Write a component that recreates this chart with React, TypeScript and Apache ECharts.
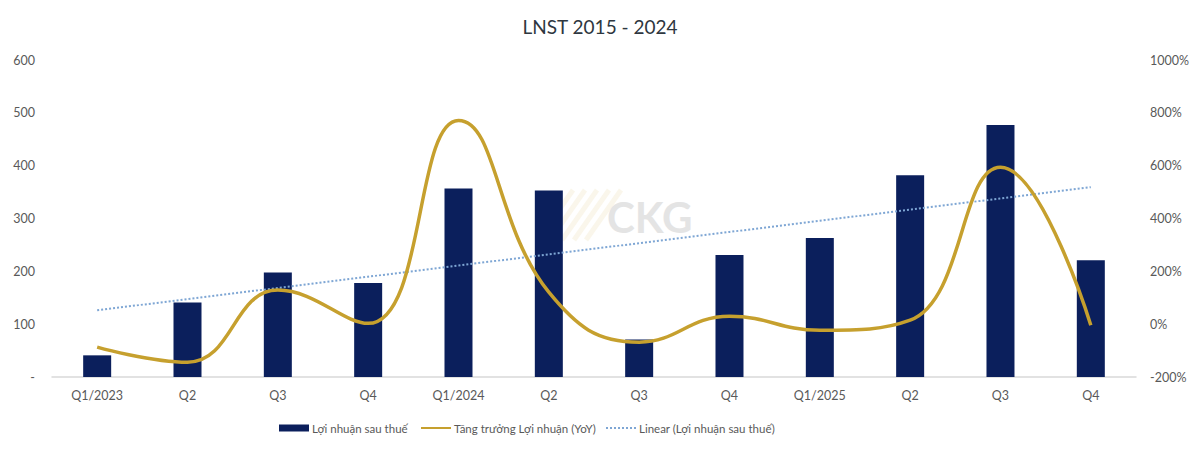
import React, { useEffect, useRef } from "react";
import * as echarts from "echarts";

// Quarterly categories
const quarters = [
  "Q1/2023", "Q2", "Q3", "Q4",
  "Q1/2024", "Q2", "Q3", "Q4",
  "Q1/2025", "Q2", "Q3", "Q4",
];

// Net profit after tax (left axis)
const profit = [41, 141, 198, 178, 357, 353, 71, 231, 263, 382, 477, 221];

// YoY profit growth, % (right axis)
const growth = [-87, -144, 129, 3, 771, 121, -68, 30, -23, 15, 594, -4];

// Left / right axis ranges
const leftAxis = { min: 0, max: 600, step: 100 };
const rightAxis = { min: -200, max: 1000, step: 200 };

// Series names shown in the legend
const SERIES_PROFIT = "Lợi nhuận sau thuế";
const SERIES_GROWTH = "Tăng trưởng Lợi nhuận (YoY)";
const SERIES_TREND = "Linear (Lợi nhuận sau thuế)";

// Least-squares linear trend of the profit series
function linearTrend(values: number[]): number[] {
  const n = values.length;
  const xs = values.map((_, i) => i);
  const mx = xs.reduce((a, b) => a + b, 0) / n;
  const my = values.reduce((a, b) => a + b, 0) / n;
  let sxy = 0;
  let sxx = 0;
  xs.forEach((x, i) => {
    sxy += (x - mx) * (values[i] - my);
    sxx += (x - mx) * (x - mx);
  });
  const slope = sxy / sxx;
  const icpt = my - slope * mx;
  return xs.map((x) => +(icpt + slope * x).toFixed(2));
}

const FONT = "Lato";
const NAVY = "#0b1f5c";
const GOLD = "#c6a02e";
const TREND = "#7ea6d4";
const LABEL = "#595959";

export default function App() {
  const ref = useRef<HTMLDivElement>(null);

  useEffect(() => {
    if (!ref.current) return;
    const chart = echarts.init(ref.current, undefined, { renderer: "svg" });

    // faint diagonal stripes of the watermark logo
    const stripes = [0, 1, 2, 3, 4].map((k) => ({
      type: "line",
      shape: { x1: 530 + k * 12, y1: 232, x2: 565 + k * 12, y2: 182 },
      style: { stroke: "rgba(214,180,90,0.12)", lineWidth: 5 },
      silent: true,
      z: -1,
    }));

    const hiddenDot = { opacity: 0 };
    const legendBase = {
      top: 409,
      itemWidth: 30,
      itemHeight: 7,
      itemGap: 4,
      textStyle: {
        fontFamily: FONT,
        fontSize: 11.5,
        color: LABEL,
        padding: [0, 0, 0, -2],
      },
    };

    chart.setOption({
      animation: false,
      backgroundColor: "#ffffff",
      textStyle: { fontFamily: FONT },
      title: {
        text: "LNST 2015 - 2024",
        left: "center",
        top: 4,
        textStyle: {
          fontFamily: FONT,
          fontSize: 19,
          fontWeight: "normal",
          color: "#2e3740",
        },
      },
      graphic: [
        ...stripes,
        {
          type: "text",
          left: 599,
          top: 188,
          silent: true,
          z: -1,
          style: {
            text: "CKG",
            fill: "#e4e4e4",
            font: `bold 42px ${FONT}`,
          },
        },
      ],
      grid: { left: 44, right: 55, top: 52, bottom: 73, containLabel: false },
      legend: [
        {
          ...legendBase,
          left: 266,
          data: [{ name: SERIES_PROFIT, icon: "rect" }],
        },
        {
          ...legendBase,
          left: 407,
          data: [{ name: SERIES_GROWTH, itemStyle: hiddenDot }],
        },
        {
          ...legendBase,
          left: 592,
          data: [{ name: SERIES_TREND, itemStyle: hiddenDot }],
        },
      ],
      xAxis: {
        type: "category",
        data: quarters,
        axisLine: { lineStyle: { color: "#d9d9d9", width: 1.5 } },
        axisTick: { show: false },
        axisLabel: {
          color: LABEL,
          fontSize: 12.5,
          fontFamily: FONT,
          margin: 12,
        },
      },
      yAxis: [
        {
          type: "value",
          min: leftAxis.min,
          max: leftAxis.max,
          interval: leftAxis.step,
          splitLine: { show: false },
          axisLine: { show: false },
          axisTick: { show: false },
          axisLabel: {
            color: LABEL,
            fontSize: 12.5,
            fontFamily: FONT,
            margin: 17,
            formatter: (v: number) => (v === 0 ? "-" : String(v)),
          },
        },
        {
          type: "value",
          min: rightAxis.min,
          max: rightAxis.max,
          interval: rightAxis.step,
          splitLine: { show: false },
          axisLine: { show: false },
          axisTick: { show: false },
          axisLabel: {
            color: LABEL,
            fontSize: 12.5,
            fontFamily: FONT,
            margin: 14,
            formatter: (v: number) => `${v}%`,
          },
        },
      ],
      series: [
        {
          name: SERIES_PROFIT,
          type: "bar",
          data: profit,
          barWidth: 28,
          itemStyle: { color: NAVY },
          z: 2,
        },
        {
          name: SERIES_GROWTH,
          type: "line",
          yAxisIndex: 1,
          data: growth,
          smooth: 0.45,
          symbol: "none",
          lineStyle: { color: GOLD, width: 3.5 },
          itemStyle: { color: GOLD },
          z: 4,
        },
        {
          name: SERIES_TREND,
          type: "line",
          data: linearTrend(profit),
          symbol: "none",
          lineStyle: { color: TREND, width: 2, type: [2, 2] },
          itemStyle: { color: TREND },
          z: 3,
        },
      ],
    });

    return () => chart.dispose();
  }, []);

  return <div ref={ref} style={{ width: 1184, height: 442 }} />;
}
